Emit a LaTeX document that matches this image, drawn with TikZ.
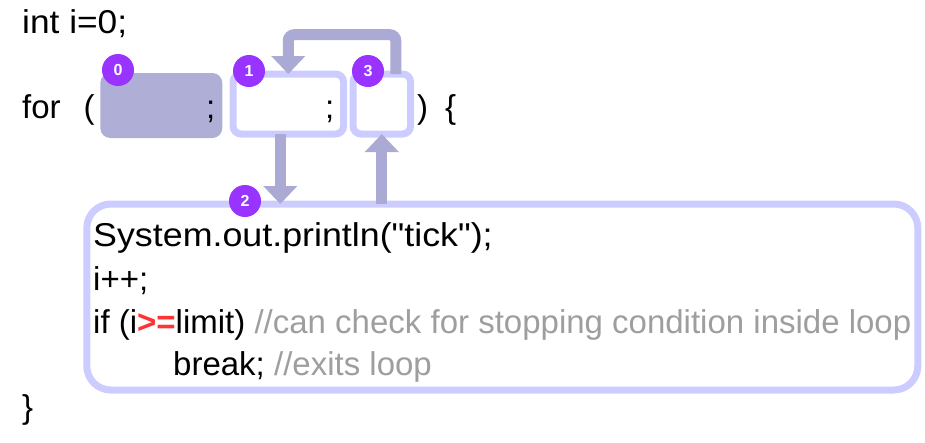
\documentclass[tikz,border=0pt]{standalone}
\usepackage{fontspec}
\setmainfont{Liberation Sans}
\usetikzlibrary{arrows.meta}
\definecolor{slotfill}{HTML}{AEAED6}
\definecolor{slotline}{HTML}{CCCCFF}
\definecolor{arrowfill}{HTML}{AAAAD4}
\definecolor{badgec}{HTML}{9933FF}
\definecolor{opred}{HTML}{FF3333}
\definecolor{commentc}{HTML}{9E9E9E}
\begin{document}
\begin{tikzpicture}[x=1pt,y=-1pt,
	code/.style={anchor=base west,inner sep=0,font=\fontsize{33}{40}\selectfont},
	slot/.style={draw=slotline,line width=7pt,rounded corners=8pt,outer sep=0,minimum height=60pt,inner sep=0},
	badge/.style={circle,fill=badgec,text=white,minimum size=32pt,inner sep=0,font=\fontsize{16}{16}\selectfont\bfseries},
	flow/.style={draw=arrowfill,line width=11pt,-{Triangle[width=33pt,length=18pt]}}]
		\useasboundingbox (0,0) rectangle (925,442);
		\node[code] (init) at (22,33.5) {\scalebox{1.07}[1]{int i=0;}};
		\node[code] (for) at (22,118) {for\hspace{23pt}(};
		\node[code] (close) at (417,118) {)\hspace{17pt}\{};
		\node[code] (end) at (22,418) {\}};
		% the three slots of the header
		\node[fill=slotfill,rounded corners=10pt,minimum width=122pt,minimum height=65pt,inner sep=0] (s0) at (161.3,105.5) {};
		\node[slot,minimum width=110.5pt] (s1) at (288.3,104) {};
		\node[slot,minimum width=57.5pt] (s3) at (381.8,104) {};
		\node[code] (semi0) at (206,118) {;};
		\node[code] (semi1) at (325,118) {;};
		% loop body
		\node[slot,rounded corners=24pt,minimum width=831pt,minimum height=186pt] (body) at (502.3,297) {};
		\node[code] (line1) at (93,246.7) {\scalebox{1.085}[1]{System.out.println(\textquotedbl tick\textquotedbl);}};
		\node[code] (line2) at (93,290) {i++;};
		\node[code] (line3) at (93,333) {if (i{\color{opred}\bfseries>=}limit) {\color{commentc}//can check for stopping condition inside loop}};
		\node[code] (line4) at (173,375) {break; {\color{commentc}//exits loop}};
		% flow arrows
		\draw[flow] ([xshift=-8pt]s1.south) -- ([xshift=-8pt]s1.south |- body.north);
		\draw[flow] (s3.south |- body.north) -- (s3.south);
		\draw[flow,rounded corners=6pt] ([xshift=14pt]s3.north) -- ++(0,-39.3) -| (s1.north);
		% step numbers
		\node[badge] (b0) at (118,70) {0};
		\node[badge] (b1) at (249,71) {1};
		\node[badge] (b3) at (368,71) {3};
		\node[badge] (b2) at (245,201) {2};
		\end{tikzpicture}
\end{document}
